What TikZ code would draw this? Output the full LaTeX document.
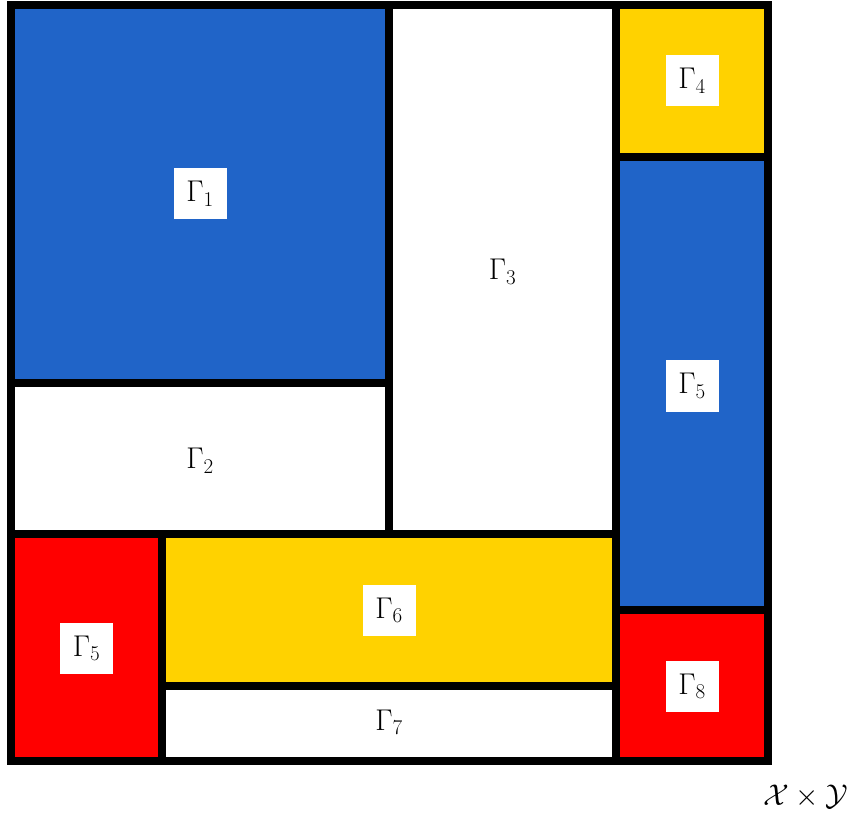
\RequirePackage{fix-cm}
\documentclass[tikz,border=0pt]{standalone}
\definecolor{mblue}{RGB}{32,100,200}
\definecolor{myellow}{RGB}{255,210,0}
\definecolor{mred}{RGB}{255,0,0}
\begin{document}
\begin{tikzpicture}[x=1pt,y=-1pt,
  region/.style={draw=black,line width=8pt,line join=miter},
  lbl/.style={fill=white,minimum width=53pt,minimum height=51pt,inner sep=0pt,font=\fontsize{30}{36}\selectfont},
  plain/.style={inner sep=0pt,font=\fontsize{30}{36}\selectfont}]
\useasboundingbox (0,0) rectangle (849,818);
% regions
\filldraw[region,fill=mblue]   (11,5.5) rectangle (389,383);
\filldraw[region,fill=white]   (11,383) rectangle (389,534);
\filldraw[region,fill=white]   (389,5.5) rectangle (616,534);
\filldraw[region,fill=myellow] (616,5.5) rectangle (768,157);
\filldraw[region,fill=mblue]   (616,157) rectangle (768,610);
\filldraw[region,fill=mred]    (11,534) rectangle (162,761);
\filldraw[region,fill=myellow] (162,534) rectangle (616,686);
\filldraw[region,fill=white]   (162,686) rectangle (616,761);
\filldraw[region,fill=mred]    (616,610) rectangle (768,761);
% labels
\node[lbl]   (g1)  at (200,194)   {$\Gamma_1$};
\node[plain] (g2)  at (200,461)   {$\Gamma_2$};
\node[plain] (g3)  at (502.5,272) {$\Gamma_3$};
\node[lbl]   (g4)  at (692,81)    {$\Gamma_4$};
\node[lbl]   (g5)  at (692,386)   {$\Gamma_5$};
\node[lbl]   (g5b) at (86.5,648)  {$\Gamma_5$};
\node[lbl]   (g6)  at (389,610)   {$\Gamma_6$};
\node[plain] (g7)  at (389,722)   {$\Gamma_7$};
\node[lbl]   (g8)  at (692,686)   {$\Gamma_8$};
\node[plain] (xy)  at (806,797)   {$\mathcal{X}\times\mathcal{Y}$};
\end{tikzpicture}
\end{document}
